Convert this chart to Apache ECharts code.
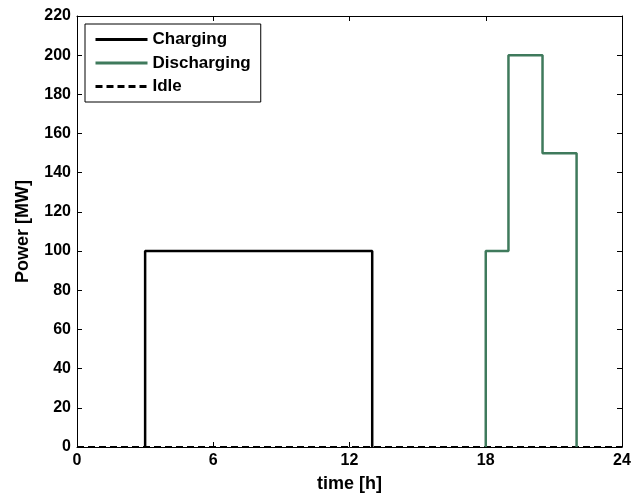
<!DOCTYPE html>
<html>
<head>
<meta charset="utf-8">
<script src="https://cdn.jsdelivr.net/npm/echarts@6/dist/echarts.min.js"></script>
<style>
  html, body { margin: 0; padding: 0; background: #fff; }
  #chart { width: 635px; height: 500px; }
</style>
</head>
<body>
<div id="chart"></div>
<script>
// Step profiles of storage power over one day
const chargeTimes = [3, 3, 13, 13];
const chargeMW = [0, 100, 100, 0];
const dischargeTimes = [18, 18, 19, 19, 20.5, 20.5, 22, 22];
const dischargeMW = [0, 100, 100, 200, 200, 150, 150, 0];
const idleTimes = [0, 24];
const idleMW = [0, 0];
const xTicks = [0, 6, 12, 18, 24];
const yTicks = [0, 20, 40, 60, 80, 100, 120, 140, 160, 180, 200, 220];

const pairs = (xs, ys) => xs.map((x, i) => [x, ys[i]]);
const font = 'Liberation Sans, Arial, sans-serif';

const chart = echarts.init(document.getElementById('chart'));

const baseAxis = {
  axisLine: { show: true, onZero: false, lineStyle: { color: '#000', width: 1 } },
  axisTick: { show: true, inside: true, length: 5, lineStyle: { color: '#000' } },
  splitLine: { show: false }
};

chart.setOption({
  animation: false,
  backgroundColor: '#fff',
  grid: { left: 77, right: 13, top: 16, bottom: 53 },
  legend: {
    orient: 'vertical',
    left: 85,
    top: 24,
    padding: [7, 10, 7, 9],
    itemWidth: 52,
    itemHeight: 14,
    itemGap: 6.5,
    backgroundColor: '#fff',
    borderColor: '#000',
    borderWidth: 1,
    borderRadius: 0,
    itemStyle: { opacity: 0 },
    lineStyle: { width: 3 },
    textStyle: { fontFamily: font, fontWeight: 'bold', fontSize: 17, color: '#000' },
    data: ['Charging', 'Discharging', 'Idle']
  },
  xAxis: [
    Object.assign({}, baseAxis, {
      type: 'value', min: xTicks[0], max: xTicks[xTicks.length - 1], interval: 6,
      name: 'time [h]', nameLocation: 'middle', nameGap: 28,
      nameTextStyle: { fontFamily: font, fontWeight: 'bold', fontSize: 18, color: '#000' },
      axisLabel: { fontFamily: font, fontWeight: 'bold', fontSize: 16, color: '#000', margin: 6 }
    }),
    Object.assign({}, baseAxis, {
      type: 'value', position: 'top', min: 0, max: 24, interval: 6,
      axisLabel: { show: false }
    })
  ],
  yAxis: [
    Object.assign({}, baseAxis, {
      type: 'value', min: yTicks[0], max: yTicks[yTicks.length - 1], interval: 20,
      name: 'Power [MW]', nameLocation: 'middle', nameGap: 45,
      nameTextStyle: { fontFamily: font, fontWeight: 'bold', fontSize: 18, color: '#000' },
      axisLabel: { fontFamily: font, fontWeight: 'bold', fontSize: 16, color: '#000', margin: 6 }
    }),
    Object.assign({}, baseAxis, {
      type: 'value', position: 'right', min: 0, max: 220, interval: 20,
      axisLabel: { show: false }
    })
  ],
  series: [
    {
      name: 'Idle', type: 'line', symbol: 'none', z: 2,
      data: pairs(idleTimes, idleMW),
      lineStyle: { color: '#000', width: 2, type: [7, 4] },
      itemStyle: { color: '#000' }
    },
    {
      name: 'Charging', type: 'line', symbol: 'none', z: 3,
      data: pairs(chargeTimes, chargeMW),
      lineStyle: { color: '#000', width: 2.5 },
      itemStyle: { color: '#000' }
    },
    {
      name: 'Discharging', type: 'line', symbol: 'none', z: 3,
      data: pairs(dischargeTimes, dischargeMW),
      lineStyle: { color: '#3f7a5c', width: 2.5 },
      itemStyle: { color: '#3f7a5c' }
    }
  ]
});
</script>
</body>
</html>
